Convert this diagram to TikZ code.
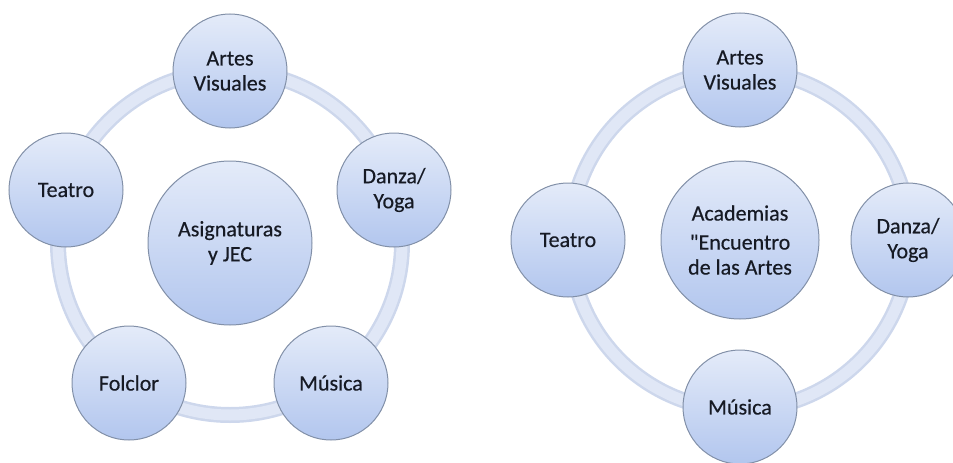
\documentclass[tikz,border=0pt]{standalone}
\usepackage{fontspec}
\setmainfont{Carlito}[Ligatures=TeXOff,FakeBold=0.4]
\usepackage{xcolor}
\usepackage{tikz}

\definecolor{ringedge}{HTML}{CDD7EC}
\definecolor{ringfill}{HTML}{E0E7F6}
\definecolor{discline}{HTML}{8290A8}
\definecolor{disctop}{HTML}{E4EBF9}
\definecolor{discbot}{HTML}{B2C6EE}
\definecolor{disctext}{HTML}{161A24}

\tikzset{
  disc/.style={circle,draw=discline,line width=1pt,top color=disctop,bottom color=discbot,
    text=disctext,align=center,inner sep=0pt,font=\fontsize{22}{25}\selectfont},
  area/.style={disc,minimum size=114pt},
  hub/.style={disc,minimum size=164pt},
  ringout/.style={draw=ringedge,line width=16pt},
  ringin/.style={draw=ringfill,line width=11pt}
}

\begin{document}
\begin{tikzpicture}[x=1pt,y=-1pt]
  \useasboundingbox (0,0) rectangle (953,463);
  % left wheel
  \coordinate (lc) at (230,243);
  \draw[ringout] (lc) circle[radius=172pt];
  \draw[ringin] (lc) circle[radius=172pt];
  \node[hub] (asig) at (lc) {Asignaturas\\y JEC};
  \node[area] (lvis) at (230,71) {Artes\\Visuales};
  \node[area] (ldan) at (394,190) {Danza/\\Yoga};
  \node[area] (lmus) at (331,383) {Música};
  \node[area] (lfol) at (129,383) {Folclor};
  \node[area] (ltea) at (66,190) {Teatro};
  % right wheel
  \coordinate (rc) at (740,240);
  \draw[ringout] (rc) circle[radius=170pt];
  \draw[ringin] (rc) circle[radius=170pt];
  \node[hub,minimum size=158pt] (acad) at (rc) {Academias\\[4pt]"Encuentro\\de las Artes};
  \node[area] (rvis) at (740,70) {Artes\\Visuales};
  \node[area] (rdan) at (908,240) {Danza/\\Yoga};
  \node[area] (rmus) at (740,407) {Música};
  \node[area] (rtea) at (568,240) {Teatro};
\end{tikzpicture}
\end{document}
